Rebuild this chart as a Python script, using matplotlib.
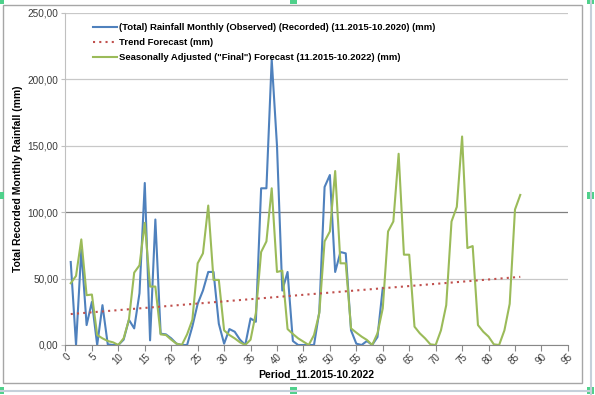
import numpy as np
import matplotlib.pyplot as plt
from matplotlib.patches import Rectangle
from matplotlib.lines import Line2D
from matplotlib.ticker import FuncFormatter

plt.rcParams['font.family'] = ['Liberation Sans', 'DejaVu Sans']

# monthly observed rainfall, periods 1..60 (mm)
observed = [62.5, 0, 72, 15, 32.5, 0, 30, 0.5, 0, 0,
            4, 19, 12.5, 39, 122, 3.5, 94.5, 8.5, 8, 5,
            1, 0, 0, 14, 31, 41, 55, 55, 16, 1,
            12, 10, 4, 0, 20, 17.5, 118, 118, 215, 150,
            41, 55, 3, 0, 0, 0, 0, 25, 119, 128,
            55, 70, 69, 11, 1, 0, 3, 0, 6, 43]

# seasonally adjusted forecast, periods 1..86 (mm)
seasonal = [46.5, 52, 79.5, 37.5, 38, 7.5, 5, 3, 2, 0,
            5, 19, 54.5, 60, 92, 44, 44, 8, 7.5, 4,
            1, 0, 8, 19, 61.5, 69, 105, 49, 49, 11,
            7.5, 5, 2, 0, 4, 24, 70, 78, 118, 55,
            56, 12, 8.3, 5, 2.5, 0, 7.5, 24, 78, 85.5,
            131, 61.5, 61.5, 12.5, 9.3, 6.3, 3.8, 0, 8.8, 27.6,
            85.5, 93, 144, 68, 68, 13.8, 8.8, 5, 0.5, 0,
            11, 30, 93, 104, 157, 73, 74.5, 15, 10, 6.3,
            0.5, 0, 11, 31, 102, 113]

# linear trend forecast, start and end period
trend_x = [1, 86]
trend = [23.3, 51.3]

labels = ['(Total) Rainfall Monthly (Observed) (Recorded) (11.2015-10.2020) (mm)',
          'Trend Forecast (mm)',
          'Seasonally Adjusted ("Final") Forecast (11.2015-10.2022) (mm)']

obs_x = np.arange(1, len(observed) + 1)
sea_x = np.arange(1, len(seasonal) + 1)

fig = plt.figure(figsize=(5.95, 3.95), dpi=100)
ax = fig.add_axes([0.110, 0.1266, 0.8444, 0.8405])

# gridlines
for v in range(0, 251, 50):
    ax.axhline(v, color='#7f7f7f' if v == 100 else '#c8c8c8', lw=0.9, zorder=0)

ax.plot(obs_x, observed, color='#4f81bd', lw=1.5, label=labels[0], zorder=3)
ax.plot(trend_x, trend, color='#c0504d', lw=1.5, ls=(0, (1, 2)), label=labels[1], zorder=4)
ax.plot(sea_x, seasonal, color='#9bbb59', lw=1.5, label=labels[2], zorder=3)

ax.set_xlim(0, 95)
ax.set_ylim(0, 250)
ax.set_xticks(np.arange(0, 96, 5))
ax.set_yticks(np.arange(0, 251, 50))
ax.yaxis.set_major_formatter(FuncFormatter(lambda v, p: f'{v:.2f}'.replace('.', ',')))

for s in ['top', 'right']:
    ax.spines[s].set_visible(False)
ax.spines['left'].set_color('#c0c0c0')
ax.spines['bottom'].set_color('#888888')
ax.tick_params(axis='x', length=4, color='#888888', labelsize=7, labelcolor='#3a3a3a', pad=1)
ax.tick_params(axis='y', length=3, color='#c0c0c0', labelsize=7.2, labelcolor='#3a3a3a', pad=2)
for t in ax.get_xticklabels():
    t.set_rotation(45)
    t.set_ha('right')
    t.set_va('top')
    t.set_rotation_mode('anchor')

ax.set_xlabel('Period_11.2015-10.2022', fontsize=7.5, fontweight='bold', labelpad=2)
ax.set_ylabel('Total Recorded Monthly Rainfall (mm)', fontsize=7.5, fontweight='bold', labelpad=3)

leg = ax.legend(loc='upper left', bbox_to_anchor=(0.038, 0.994), frameon=False,
                prop={'size': 6.8, 'weight': 'bold'}, handlelength=2.5,
                handletextpad=0.3, labelspacing=0.62)

# chart area border and selection handles
fig.patches.append(Rectangle((3 / 595, 1 - 383 / 395), 579 / 595, 378 / 395,
                             transform=fig.transFigure, fill=False,
                             edgecolor='#a6a6a6', lw=1))
fig.lines.append(Line2D([0, 591 / 595], [1 - 391 / 395] * 2, transform=fig.transFigure,
                        color='#c5d0da', lw=1.5))
fig.lines.append(Line2D([591 / 595] * 2, [0, 1], transform=fig.transFigure,
                        color='#c5d0da', lw=1.5))
for hx in [0, 293, 590]:
    for hy in [0, 195, 390]:
        if hx == 293 and hy == 195:
            continue
        fig.patches.append(Rectangle(((hx - 3) / 595, 1 - (hy + 4) / 395), 7 / 595, 7 / 395,
                                     transform=fig.transFigure, color='#4fd18b', lw=0))

plt.savefig('out.png', dpi=100)
